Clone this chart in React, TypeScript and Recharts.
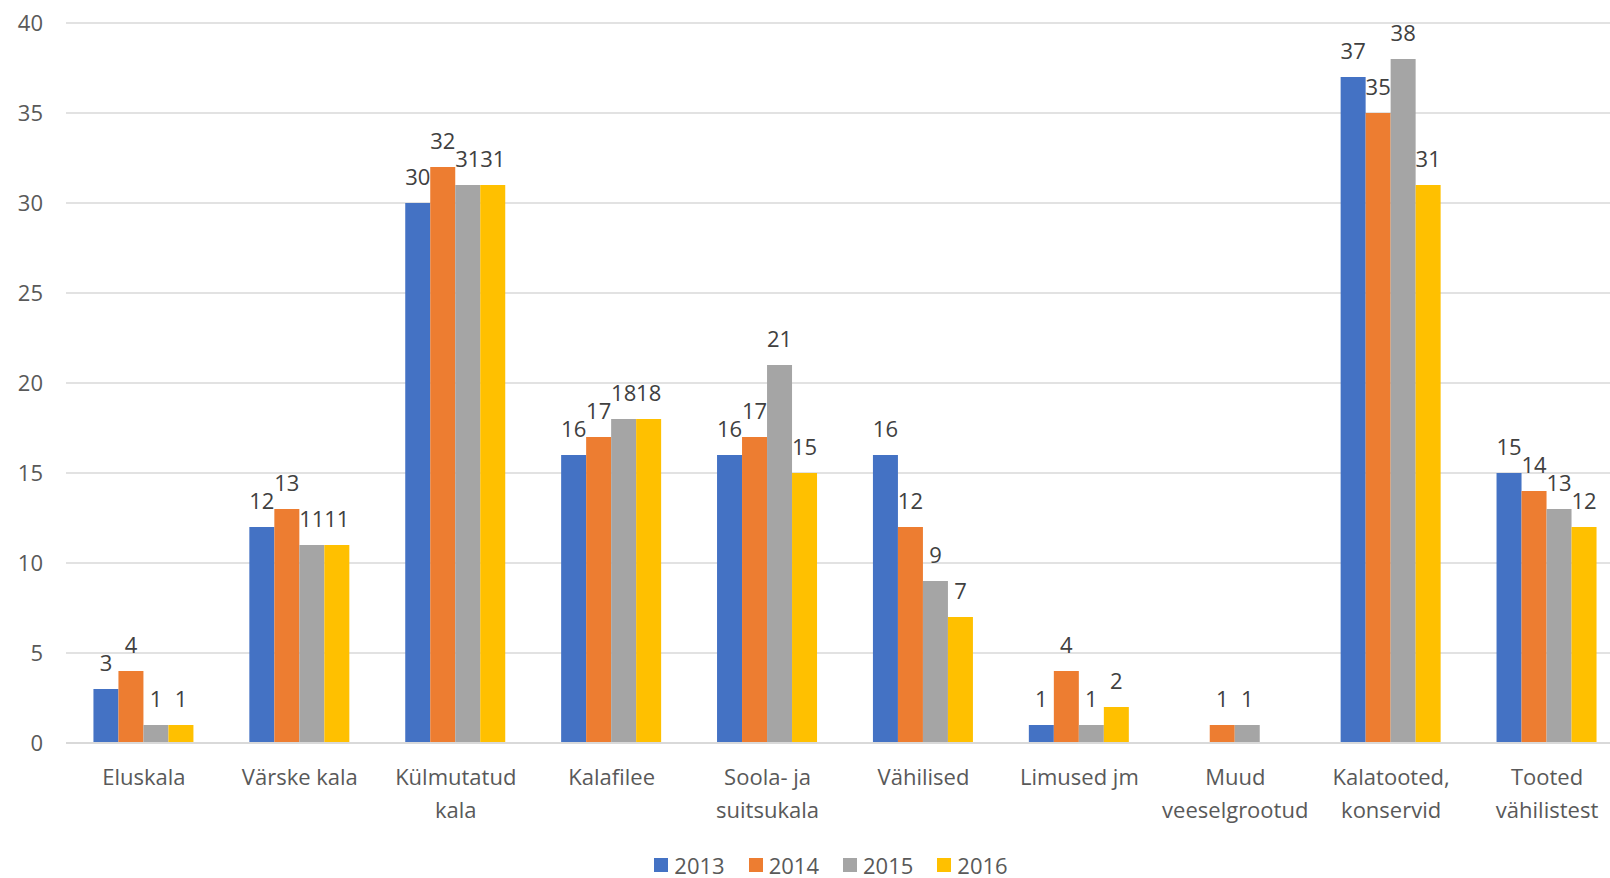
import React from 'react'
import { BarChart, Bar, XAxis, YAxis, CartesianGrid, Legend, LabelList } from 'recharts'

const categories = [
  'Eluskala',
  'Värske kala',
  'Külmutatud\nkala',
  'Kalafilee',
  'Soola- ja\nsuitsukala',
  'Vähilised',
  'Limused jm',
  'Muud\nveeselgrootud',
  'Kalatooted,\nkonservid',
  'Tooted\nvähilistest',
]

const y2013 = [3, 12, 30, 16, 16, 16, 1, 0, 37, 15]
const y2014 = [4, 13, 32, 17, 17, 12, 4, 1, 35, 14]
const y2015 = [1, 11, 31, 18, 21, 9, 1, 1, 38, 13]
const y2016 = [1, 11, 31, 18, 15, 7, 2, 0, 31, 12]

const years = ['2013', '2014', '2015', '2016']
const colors = ['#4472C4', '#ED7D31', '#A5A5A5', '#FFC000']
const yTicks = [0, 5, 10, 15, 20, 25, 30, 35, 40]

const data = categories.map((name, i) => ({
  name,
  '2013': y2013[i],
  '2014': y2014[i],
  '2015': y2015[i],
  '2016': y2016[i],
}))

const FONT = '"Open Sans", "Noto Sans", sans-serif'

function CategoryTick(props: any) {
  const { x, y, payload } = props
  const lines = String(payload.value).split('\n')
  return (
    <text x={x} y={y} textAnchor="middle" fill="#595959" fontSize={22} fontFamily={FONT}>
      {lines.map((l, i) => (
        <tspan key={i} x={x} dy={i === 0 ? 34 : 33}>
          {l}
        </tspan>
      ))}
    </text>
  )
}

// legend drawn as plain html inside the chart's legend slot
function YearLegend() {
  return (
    <div
      style={{
        height: 36,
        paddingTop: 9,
        paddingLeft: 52,
        boxSizing: 'border-box',
        display: 'flex',
        alignItems: 'center',
        justifyContent: 'center',
        gap: 24,
        fontFamily: FONT,
        fontSize: 22,
        lineHeight: '26px',
        color: '#595959',
      }}
    >
      {years.map((yr, i) => (
        <div key={yr} style={{ display: 'flex', alignItems: 'center' }}>
          <span style={{ width: 14, height: 14, background: colors[i], marginRight: 6 }} />
          <span>{yr}</span>
        </div>
      ))}
    </div>
  )
}

export default function App() {
  return (
    <div
      style={{
        position: 'absolute',
        left: 0,
        top: 0,
        width: 1610,
        height: 878,
        overflow: 'hidden',
        background: '#fff',
      }}
    >
      <BarChart
        width={1625}
        height={878}
        data={data}
        margin={{ top: 23, right: 0, bottom: 0, left: 0 }}
        barCategoryGap="17.6%"
        barGap={0}
      >
        <CartesianGrid vertical={false} stroke="#D9D9D9" strokeWidth={1.5} />
        <XAxis
          dataKey="name"
          height={99}
          interval={0}
          tick={<CategoryTick />}
          tickLine={false}
          axisLine={{ stroke: '#D9D9D9', strokeWidth: 2 }}
        />
        <YAxis
          width={66}
          domain={[0, 40]}
          ticks={yTicks}
          tickLine={false}
          axisLine={false}
          tickMargin={17}
          tick={{ fill: '#595959', fontSize: 22, fontFamily: FONT }}
        />
        <Legend
          verticalAlign="bottom"
          content={<YearLegend />}
          wrapperStyle={{ left: 0, width: 1610 }}
        />
        {years.map((yr, i) => (
          <Bar key={yr} dataKey={yr} fill={colors[i]} isAnimationActive={false}>
            <LabelList
              dataKey={yr}
              position="top"
              offset={18}
              fill="#404040"
              fontSize={22}
              fontFamily={FONT}
              formatter={(v: any) => (v ? v : '')}
            />
          </Bar>
        ))}
      </BarChart>
    </div>
  )
}
